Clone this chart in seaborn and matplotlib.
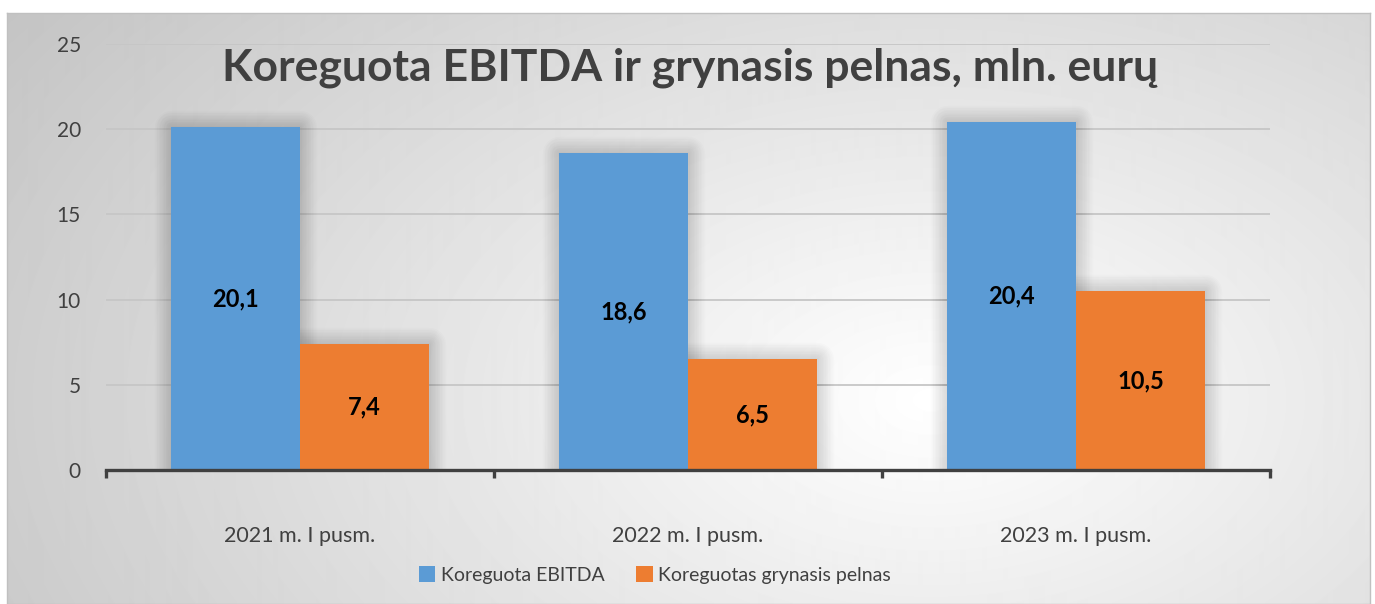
import numpy as np
import pandas as pd
import matplotlib
matplotlib.use("Agg")
import matplotlib.pyplot as plt
import matplotlib.patheffects as pe
from matplotlib.patches import Rectangle
import seaborn as sns

# Data
periods = ["2021 m. I pusm.", "2022 m. I pusm.", "2023 m. I pusm."]
ebitda = [20.1, 18.6, 20.4]
net_profit = [7.4, 6.5, 10.5]
series_names = ["Koreguota EBITDA", "Koreguotas grynasis pelnas"]
colors = ["#5B9BD5", "#ED7D31"]
text_color = "#404040"

df = pd.DataFrame({
    "period": periods * 2,
    "series": [series_names[0]] * 3 + [series_names[1]] * 3,
    "value": ebitda + net_profit,
})

sns.set_theme(style="white")
plt.rcParams["font.family"] = ["Lato", "DejaVu Sans"]

W, H = 1375, 604
fig = plt.figure(figsize=(W / 100, H / 100), dpi=100)
fig.patch.set_facecolor("white")

# Radial gradient background panel
bx0, by0, bx1, by1 = 7, 13, 1370, 604
bg = fig.add_axes([bx0 / W, 1 - by1 / H, (bx1 - bx0) / W, (by1 - by0) / H], zorder=-1)
yy, xx = np.mgrid[by0:by1, bx0:bx1]
r = np.sqrt(((xx - 930) / 1000.0) ** 2 + ((yy - 400) / 620.0) ** 2)
shade = 1.0 - 0.24 * np.clip(r, 0, 1.15) / 1.15
bg.imshow(shade, cmap="gray", vmin=0, vmax=1, aspect="auto", interpolation="bilinear")
bg.set_xticks([])
bg.set_yticks([])
for s in bg.spines.values():
    s.set_color("#c0c0c0")
    s.set_linewidth(1)

# Main axes
ax = fig.add_axes([106 / W, 1 - 470 / H, (1270 - 106) / W, (470 - 44) / H])
ax.set_facecolor("none")

sns.barplot(data=df, x="period", y="value", hue="series", palette=colors,
            width=0.665, saturation=1, ax=ax, zorder=2, legend=True,
            linewidth=0, edgecolor="none")

# Soft shadows around bars
for bar in list(ax.patches):
    if bar.get_height() <= 0:
        continue
    sh = Rectangle(bar.get_xy(), bar.get_width(), bar.get_height(),
                   facecolor=(0, 0, 0, 0), edgecolor="none", zorder=1,
                   path_effects=[pe.Stroke(linewidth=lw, foreground="black", alpha=0.012,
                                           joinstyle="round") for lw in range(2, 26, 2)])
    ax.add_patch(sh)

# Value labels
for cont, vals in zip(ax.containers, [ebitda, net_profit]):
    ax.bar_label(cont, labels=[f"{v:.1f}".replace(".", ",") for v in vals],
                 label_type="center", fontsize=17, fontweight="bold", color="black")

ax.set_ylim(0, 25)
ax.set_xlim(-0.5, 2.5)
ax.set_yticks(range(0, 26, 5))
ax.yaxis.grid(True, color="#c6c6c6", linewidth=1.3, zorder=0)
ax.set_axisbelow(True)
ax.tick_params(axis="y", length=0, pad=18, labelsize=15, labelcolor=text_color)

ax.set_xticks([-0.5, 0.5, 1.5, 2.5])
ax.set_xticklabels([])
ax.set_xticks([0, 1, 2], minor=True)
ax.set_xticklabels(periods, minor=True)
ax.tick_params(axis="x", which="major", bottom=True, length=6, width=2.4,
               color=text_color, direction="out")
ax.tick_params(axis="x", which="minor", bottom=True, length=0, pad=40,
               labelsize=15.5, labelcolor=text_color)

for side in ["top", "right", "left"]:
    ax.spines[side].set_visible(False)
ax.spines["bottom"].set_color(text_color)
ax.spines["bottom"].set_linewidth(2.4)
ax.set_xlabel("")
ax.set_ylabel("")

# Legend
handles, labels = ax.get_legend_handles_labels()
ax.legend(handles, labels, loc="center", bbox_to_anchor=(655 / W, 1 - 575 / H),
          bbox_transform=fig.transFigure, ncol=2, frameon=False, fontsize=14,
          labelcolor=text_color, handlelength=0.85, handleheight=0.85,
          handletextpad=0.3, columnspacing=1.6)

fig.text(690 / W, 1 - 68 / H, "Koreguota EBITDA ir grynasis pelnas, mln. eurų",
         ha="center", va="center", fontsize=32, fontweight="bold", color=text_color)

fig.savefig("out.png", dpi=100, facecolor="white")
